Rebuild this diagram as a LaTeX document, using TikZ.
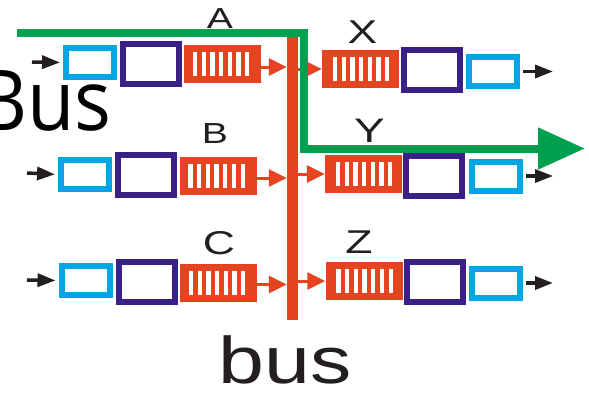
\documentclass[tikz,border=0pt]{standalone}
\usepackage{fontspec}
\setmainfont{Liberation Sans}
\newfontfamily\bigfont{Open Sans}
\usetikzlibrary{arrows.meta}
\definecolor{lb}{HTML}{00A6E4}
\definecolor{pu}{HTML}{3A1F87}
\definecolor{rd}{HTML}{E64420}
\definecolor{gr}{HTML}{00A050}
\definecolor{bk}{HTML}{231F20}
\begin{document}
\begin{tikzpicture}[x=1pt,y=-1pt,
  inbox/.style={draw=lb, line width=6pt, minimum width=48pt, minimum height=29pt, inner sep=0pt},
  procbox/.style={draw=pu, line width=6pt, minimum width=56pt, minimum height=40pt, inner sep=0pt},
  queue/.style={fill=rd, minimum width=77pt, minimum height=38pt, inner sep=0pt},
  lbl/.style={font=\fontsize{31}{31}\selectfont, text=bk, xscale=1.35, inner sep=0pt, anchor=base},
  blk/.style={draw=bk, line width=3.5pt, -{Triangle[length=18pt,width=13pt]}},
  rarr/.style={draw=rd, line width=3pt, -{Triangle[length=18pt,width=17pt]}},
  stripe/.style={fill=white},
]
\useasboundingbox (0,0) rectangle (589,392);
\clip (0,0) rectangle (589,392);

% big label
\node[font=\bigfont\fontsize{84}{84}\selectfont, anchor=base east, xscale=0.92, inner sep=0pt, text depth=0pt, text=black] (bigbus) at (112,130) {Bus};

% bus bar
\node[fill=rd, minimum width=11pt, minimum height=283pt, inner sep=0pt] (bus) at (292.5,178.5) {};

% input ports
\node[inbox] (ia) at (90,62.5) {};
\node[procbox] (pa) at (151,63.5) {};
\node[queue] (qa) at (222.5,64) {};
\node[inbox] (ib) at (85,174.5) {};
\node[procbox] (pb) at (146,175) {};
\node[queue] (qb) at (218,176) {};
\node[inbox] (ic) at (85.5,280.5) {};
\node[procbox] (pc) at (147,282) {};
\node[queue] (qc) at (218.5,282.5) {};

% output ports
\node[queue] (qx) at (360.5,69) {};
\node[procbox] (px) at (432,70) {};
\node[inbox] (ox) at (493,71.5) {};
\node[queue] (qy) at (363.5,174) {};
\node[procbox] (py) at (434,175.5) {};
\node[inbox] (oy) at (495.5,176) {};
\node[queue] (qz) at (364,281) {};
\node[procbox] (pz) at (434.5,282) {};
\node[inbox] (oz) at (495.5,283) {};

% stripes
\foreach \q in {qa,qb,qc}
  \foreach \i in {0,...,6}
    \fill[stripe] ([xshift=9pt+\i*8.7pt, yshift=12pt]\q.west) rectangle ++(4.3,24);
\foreach \q in {qx,qy,qz}
  \foreach \i in {0,...,6}
    \fill[stripe] ([xshift=11pt+\i*8.7pt, yshift=12pt]\q.west) rectangle ++(4.3,24);

% input arrows
\coordinate (sa) at (32,62);
\coordinate (sb) at (27,173);
\coordinate (sc) at (27,280);
\draw[blk, shorten >=3pt] (sa) -- (ia.west);
\draw[blk, shorten >=3pt] (sb) -- (ib.west);
\draw[blk, shorten >=3pt] (sc) -- (ic.west);

% output arrows
\coordinate (ex) at (553,0);
\draw[blk, shorten <=3pt] (ox.east) -- (ox.east -| ex);
\draw[blk, shorten <=3pt] (oy.east) -- (oy.east -| ex);
\draw[blk, shorten <=3pt] (oz.east) -- (oz.east -| ex);

% red arrows to / from bus
\draw[rarr] ([yshift=-3pt]qa.east) -- ([yshift=-3pt]qa.east -| bus.west);
\draw[rarr] ([yshift=-2pt]qb.east) -- ([yshift=-2pt]qb.east -| bus.west);
\draw[rarr] ([yshift=-2pt]qc.east) -- ([yshift=-2pt]qc.east -| bus.west);
\draw[rarr] (qx.west -| bus.east) -- (qx.west);
\draw[rarr] (qy.west -| bus.east) -- (qy.west);
\draw[rarr] (qz.west -| bus.east) -- (qz.west);

% labels
\node[lbl, font=\fontsize{29}{29}\selectfont] (la) at (220,28) {A};
\node[lbl, font=\fontsize{29}{29}\selectfont] (lb) at (215,143) {B};
\node[lbl, font=\fontsize{33}{33}\selectfont] (lc) at (219,254) {C};
\node[lbl, font=\fontsize{33}{33}\selectfont] (lx) at (362.5,43) {X};
\node[lbl, font=\fontsize{34}{34}\selectfont] (ly) at (369.5,142) {Y};
\node[lbl, font=\fontsize{33}{33}\selectfont] (lz) at (359,253) {Z};

\node[font=\fontsize{66}{66}\selectfont, anchor=base, xscale=1.25, inner sep=0pt, text depth=0pt, text=bk] (bustxt) at (285,383) {bus};

% green path
\coordinate (g0) at (17,32.5);
\coordinate (g1) at (303.5,32.5);
\coordinate (g2) at (303.5,148.5);
\coordinate (g3) at (585,148.5);
\draw[gr, line width=8pt, line join=miter, -{Triangle[length=47pt,width=40pt]}] (g0) -- (g1) -- (g2) -- (g3);
\end{tikzpicture}
\end{document}
